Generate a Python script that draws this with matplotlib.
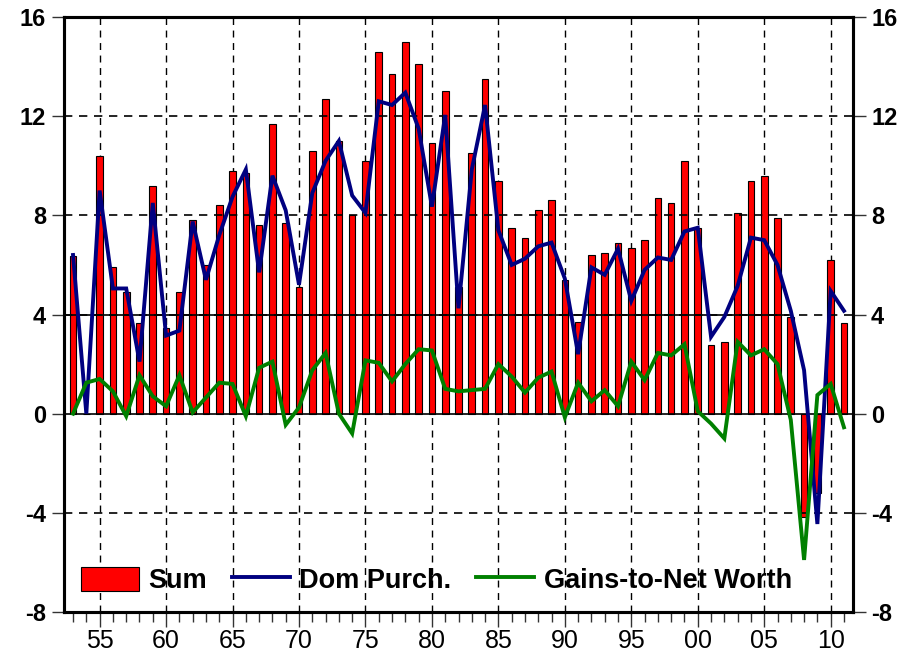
import matplotlib
matplotlib.use("Agg")
import matplotlib.pyplot as plt
from matplotlib import font_manager
from matplotlib.ticker import FixedLocator
import numpy as np

years = list(range(1953, 2012))
sum_vals = [6.35, 0.0, 10.4, 5.9, 4.9, 3.65, 9.2, 3.45, 4.9, 7.8,
            6.0, 8.4, 9.8, 9.7, 7.6, 11.7, 7.7, 5.1, 10.6, 12.7,
            11.0, 8.0, 10.2, 14.6, 13.7, 15.0, 14.1, 10.9, 13.0, 5.1,
            10.5, 13.5, 9.4, 7.5, 7.1, 8.2, 8.6, 5.4, 3.7, 6.4,
            6.5, 6.9, 6.7, 7.0, 8.7, 8.5, 10.2, 7.5, 2.75, 2.9,
            8.1, 9.4, 9.6, 7.9, 3.9, -4.15, -3.2, 6.2, 3.65]
dom_purch = [6.4, 0.0, 9.0, 5.05, 5.05, 2.1, 8.5, 3.15, 3.35, 7.75,
             5.4, 7.2, 8.75, 9.85, 5.7, 9.6, 8.2, 5.2, 8.9, 10.2,
             11.0, 8.8, 8.1, 12.6, 12.45, 12.95, 11.5, 8.35, 12.05, 4.25,
             9.85, 12.45, 7.4, 6.0, 6.25, 6.75, 6.9, 5.45, 2.4, 5.9,
             5.6, 6.65, 4.55, 5.8, 6.3, 6.2, 7.35, 7.5, 3.1, 3.9,
             5.15, 7.1, 7.0, 6.0, 4.15, 1.75, -4.45, 4.95, 4.15]
gains = [0.0, 1.25, 1.4, 0.9, -0.1, 1.55, 0.7, 0.3, 1.55, 0.05,
         0.65, 1.25, 1.2, -0.1, 1.85, 2.1, -0.45, 0.25, 1.75, 2.45,
         0.0, -0.8, 2.15, 2.05, 1.3, 2.0, 2.6, 2.55, 1.0, 0.9,
         0.95, 1.0, 2.0, 1.5, 0.85, 1.45, 1.7, -0.15, 1.25, 0.5,
         0.95, 0.3, 2.1, 1.35, 2.45, 2.35, 2.8, 0.1, -0.4, -1.0,
         2.9, 2.35, 2.6, 2.0, -0.25, -5.9, 0.75, 1.2, -0.55]
xtick_years = [1955, 1960, 1965, 1970, 1975, 1980, 1985, 1990, 1995, 2000, 2005, 2010]
xtick_labels = ["55", "60", "65", "70", "75", "80", "85", "90", "95", "00", "05", "10"]
yticks = [-8, -4, 0, 4, 8, 12, 16]

installed = {f.name for f in font_manager.fontManager.ttflist}
bold_font = "Liberation Sans" if "Liberation Sans" in installed else "DejaVu Sans"
narrow_font = "Liberation Sans Narrow" if "Liberation Sans Narrow" in installed else bold_font

fig = plt.figure(figsize=(9.13, 6.59), dpi=100)
ax = fig.add_axes([64/913, 47/659, 789/913, 595/659])

# vertical dashed grid behind bars
for xv in xtick_years:
    ax.axvline(xv, color="black", lw=1.0, ls=(0, (5, 4)), zorder=0.5)

bars = ax.bar(years, sum_vals, width=0.5, color="#ff0000", edgecolor="black",
              linewidth=0.8, zorder=1, label="Sum")

# horizontal grid lines on top of bars
for yv in [12, 8, 4, -4]:
    ax.axhline(yv, color="black", lw=1.2, ls=(0, (5, 4)), zorder=1.5)
ax.plot([1952.3, 2006.8], [4, 4], color="black", lw=1.2, zorder=1.6)
ax.axhline(0, color="black", lw=1.2, zorder=1.6)

l1, = ax.plot(years, dom_purch, color="#000080", lw=2.8, zorder=3, label="Dom Purch.",
              solid_joinstyle="miter")
l2, = ax.plot(years, gains, color="#008000", lw=2.8, zorder=3, label="Gains-to-Net Worth",
              solid_joinstyle="miter")

ax.set_xlim(1952.32, 2011.68)
ax.set_ylim(-8, 16)
ax.set_yticks(yticks)
ax.set_yticklabels([str(v) for v in yticks], fontfamily=bold_font,
                   fontweight="bold", fontsize=17)
ax.set_xticks(xtick_years)
ax.set_xticklabels(xtick_labels, fontfamily=narrow_font, fontsize=18)
ax.xaxis.set_minor_locator(FixedLocator(years))
ax.tick_params(axis="x", which="major", direction="out", length=11, width=1,
               pad=1, color="#333333")
ax.tick_params(axis="x", which="minor", direction="out", length=7, width=1,
               color="#333333")
ax.tick_params(axis="y", which="major", direction="out", length=9, width=1,
               pad=4, color="#333333")

for sp in ax.spines.values():
    sp.set_linewidth(2.2)
    sp.set_color("black")

ax2 = ax.twinx()
ax2.set_ylim(-8, 16)
ax2.set_yticks(yticks)
ax2.set_yticklabels([str(v) for v in yticks], fontfamily=bold_font,
                    fontweight="bold", fontsize=17)
ax2.tick_params(axis="y", direction="out", length=9, width=1, pad=4, color="#333333")
for sp in ax2.spines.values():
    sp.set_linewidth(2.2)

leg = ax.legend([bars, l1, l2], ["Sum", "Dom Purch.", "Gains-to-Net Worth"],
                loc="lower left", bbox_to_anchor=(-0.006, -0.006), ncol=3, frameon=False,
                prop={"family": bold_font, "weight": "bold", "size": 19.5},
                handlelength=2.15, handleheight=1.0, handletextpad=0.35,
                columnspacing=0.9, borderaxespad=0.4)

fig.savefig("out.png", dpi=100)
